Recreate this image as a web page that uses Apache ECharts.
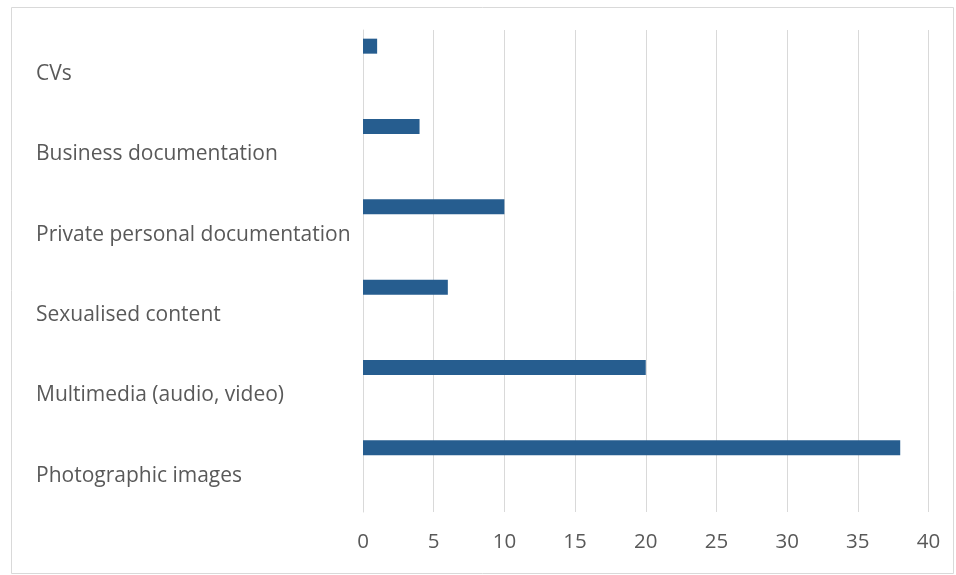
<!DOCTYPE html>
<html>
<head>
<meta charset="utf-8">
<script src="https://cdn.jsdelivr.net/npm/echarts@6/dist/echarts.min.js"></script>
<style>
html,body{margin:0;padding:0;background:#fff;}
#chart{width:956px;height:575px;}
</style>
</head>
<body>
<div id="chart"></div>
<script>
const categories = ["CVs", "Business documentation", "Private personal documentation", "Sexualised content", "Multimedia (audio, video)", "Photographic images"];
const values = [1, 4, 10, 6, 20, 38];
const xTicks = [0, 5, 10, 15, 20, 25, 30, 35, 40];

const chart = echarts.init(document.getElementById('chart'), null, {renderer: 'canvas'});
const font = '"Open Sans", sans-serif';
chart.setOption({
  animation: false,
  backgroundColor: '#ffffff',
  graphic: [{
    type: 'rect', left: 9, top: 5, silent: true,
    shape: {width: 942, height: 566},
    style: {fill: 'none', stroke: '#d9d9d9', lineWidth: 1}
  }],
  grid: {left: 363, right: 27.5, top: 30, bottom: 63, containLabel: false},
  xAxis: {
    type: 'value', min: xTicks[0], max: xTicks[xTicks.length - 1], interval: 5,
    axisLine: {show: false}, axisTick: {show: false},
    splitLine: {show: true, lineStyle: {color: '#d9d9d9', width: 1}},
    axisLabel: {color: '#595959', fontFamily: font, fontSize: 20.5, margin: 20}
  },
  yAxis: {
    type: 'category', data: categories, inverse: true,
    axisLine: {show: true, lineStyle: {color: '#d9d9d9'}}, axisTick: {show: false},
    axisLabel: {
      align: 'left', margin: 327,
      formatter: v => '{a|' + v + '}',
      rich: {a: {color: '#595959', fontFamily: font, fontSize: 21, padding: [8, 0, 0, 0]}}
    }
  },
  series: [
    {type: 'bar', data: values, barWidth: 15, barGap: '220%', itemStyle: {color: '#265d8f'}},
    {type: 'bar', data: values.map(() => null), barWidth: 15, itemStyle: {color: '#265d8f'}}
  ]
});
</script>
</body>
</html>
